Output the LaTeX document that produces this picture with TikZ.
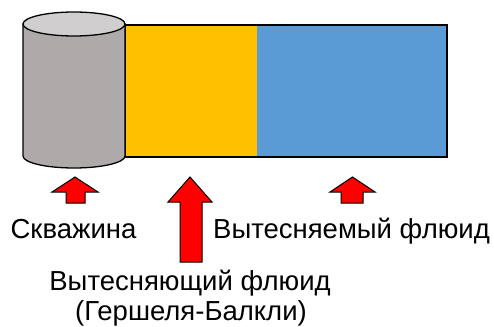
\documentclass[tikz,border=0pt]{standalone}
\usepackage{fontspec}
\setmainfont{Liberation Sans}
\definecolor{cylside}{HTML}{AEAAAA}
\definecolor{cyltop}{HTML}{D0CECE}
\definecolor{dispcol}{HTML}{FFC000}
\definecolor{fluidcol}{HTML}{5B9BD5}
\tikzset{
  outline/.style={draw=black,line width=1.3pt,line join=miter},
  redarrow/.style={draw=black,line width=1pt,fill=red,line join=miter},
  lbl/.style={font=\fontsize{27.5}{32}\selectfont,anchor=base,inner sep=0pt}
}
\begin{document}
\begin{tikzpicture}[x=1pt,y=-1pt]
\useasboundingbox (0,0) rectangle (494,326);
% zones
\fill[dispcol] (125,25) rectangle (257,157);
\fill[fluidcol] (257,25) rectangle (447,157);
\draw[outline] (125,25) rectangle (447,157);
% cylinder (well)
\filldraw[outline,fill=cylside] (23,24) -- (23,156) arc[start angle=180,end angle=360,x radius=51,y radius=-12] -- (125,24) -- cycle;
\filldraw[outline,fill=cyltop] (74,24) ellipse[x radius=51,y radius=12];
% arrows
\draw[redarrow] (75,177) -- (98,192) -- (85,192) -- (85,203) -- (66,203) -- (66,192) -- (52,192) -- cycle;
\draw[redarrow] (190,177) -- (212,202) -- (202,202) -- (202,262) -- (180,262) -- (180,202) -- (168,202) -- cycle;
\draw[redarrow] (352.5,177) -- (375,192) -- (363,192) -- (363,203) -- (341,203) -- (341,192) -- (330,192) -- cycle;
% labels
\node[lbl] (well) at (73.5,238.5) {Скважина};
\node[lbl] (displaced) at (351.5,238.5) {Вытесняемый флюид};
\node[lbl] (displacing) at (190,290) {Вытесняющий флюид};
\node[lbl] (hb) at (191,320) {(Гершеля-Балкли)};
\end{tikzpicture}
\end{document}
